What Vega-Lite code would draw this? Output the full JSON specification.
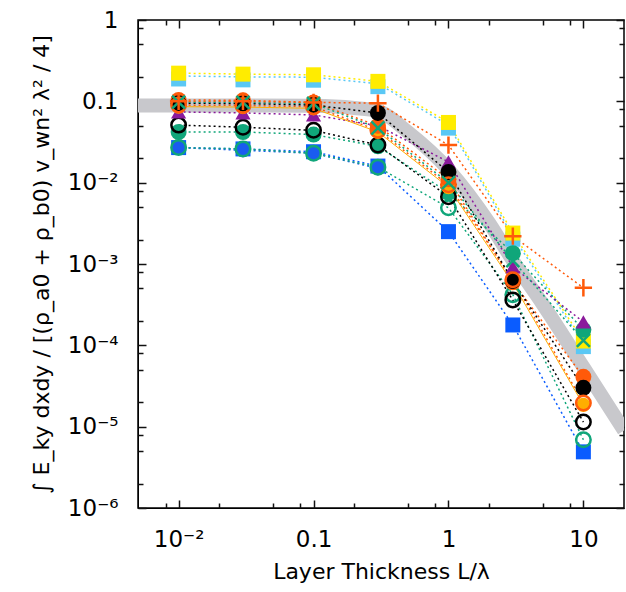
{
  "$schema": "https://vega.github.io/schema/vega-lite/v6.json",
  "width": 486,
  "height": 488,
  "autosize": {"type": "none"},
  "padding": {"left": 138, "top": 20, "right": 2, "bottom": 84},
  "background": "white",
  "config": {
    "view": {"stroke": "black", "strokeWidth": 1.5},
    "axis": {
      "labelFont": "DejaVu Sans",
      "labelFontSize": 23,
      "labelColor": "black",
      "titleFont": "DejaVu Sans",
      "titleFontSize": 22,
      "titleFontWeight": "normal",
      "titleColor": "black",
      "domainColor": "black",
      "grid": false
    }
  },
  "datasets": {
    "pts": [
      {"s": "lb", "x": 0.01, "y": 0.205}, {"s": "lb", "x": 0.03, "y": 0.2}, {"s": "lb", "x": 0.1, "y": 0.198}, {"s": "lb", "x": 0.3, "y": 0.165}, {"s": "lb", "x": 1, "y": 0.051}, {"s": "lb", "x": 3, "y": 0.0022}, {"s": "lb", "x": 10, "y": 0.000105},
      {"s": "yl", "x": 0.01, "y": 0.222}, {"s": "yl", "x": 0.03, "y": 0.216}, {"s": "yl", "x": 0.1, "y": 0.212}, {"s": "yl", "x": 0.3, "y": 0.176}, {"s": "yl", "x": 1, "y": 0.055}, {"s": "yl", "x": 3, "y": 0.0024}, {"s": "yl", "x": 10, "y": 0.000113},
      {"s": "bs", "x": 0.01, "y": 0.027}, {"s": "bs", "x": 0.03, "y": 0.026}, {"s": "bs", "x": 0.1, "y": 0.024}, {"s": "bs", "x": 0.3, "y": 0.016}, {"s": "bs", "x": 1, "y": 0.0025}, {"s": "bs", "x": 3, "y": 0.000178}, {"s": "bs", "x": 10, "y": 0.0000049},
      {"s": "bc", "x": 0.01, "y": 0.027}, {"s": "bc", "x": 0.03, "y": 0.025}, {"s": "bc", "x": 0.1, "y": 0.023}, {"s": "bc", "x": 0.3, "y": 0.015},
      {"s": "to", "x": 0.01, "y": 0.027}, {"s": "to", "x": 0.03, "y": 0.026}, {"s": "to", "x": 0.1, "y": 0.023}, {"s": "to", "x": 0.3, "y": 0.0155}, {"s": "to", "x": 1, "y": 0.0049}, {"s": "to", "x": 3, "y": 0.00042}, {"s": "to", "x": 10, "y": 0.0000069},
      {"s": "tf", "x": 0.01, "y": 0.042}, {"s": "tf", "x": 0.03, "y": 0.042}, {"s": "tf", "x": 0.1, "y": 0.039}, {"s": "tf", "x": 0.3, "y": 0.028}, {"s": "tf", "x": 1, "y": 0.0075}, {"s": "tf", "x": 3, "y": 0.00136}, {"s": "tf", "x": 10, "y": 0.000155},
      {"s": "ko", "x": 0.01, "y": 0.051}, {"s": "ko", "x": 0.03, "y": 0.048}, {"s": "ko", "x": 0.1, "y": 0.044}, {"s": "ko", "x": 0.3, "y": 0.029}, {"s": "ko", "x": 1, "y": 0.0067}, {"s": "ko", "x": 3, "y": 0.00036}, {"s": "ko", "x": 10, "y": 0.0000114},
      {"s": "pt", "x": 0.01, "y": 0.074}, {"s": "pt", "x": 0.03, "y": 0.072}, {"s": "pt", "x": 0.1, "y": 0.068}, {"s": "pt", "x": 0.3, "y": 0.05}, {"s": "pt", "x": 1, "y": 0.018}, {"s": "pt", "x": 3, "y": 0.00092}, {"s": "pt", "x": 10, "y": 0.000194},
      {"s": "lo", "x": 0.01, "y": 0.086}, {"s": "lo", "x": 0.03, "y": 0.085}, {"s": "lo", "x": 0.1, "y": 0.082}, {"s": "lo", "x": 0.3, "y": 0.042}, {"s": "lo", "x": 1, "y": 0.0088}, {"s": "lo", "x": 3, "y": 0.00058}, {"s": "lo", "x": 10, "y": 0.0000185},
      {"s": "oo", "x": 0.01, "y": 0.09}, {"s": "oo", "x": 0.03, "y": 0.089}, {"s": "oo", "x": 0.1, "y": 0.086}, {"s": "oo", "x": 0.3, "y": 0.044}, {"s": "oo", "x": 1, "y": 0.0094}, {"s": "oo", "x": 3, "y": 0.00064}, {"s": "oo", "x": 10, "y": 0.0000196},
      {"s": "of", "x": 0.01, "y": 0.104}, {"s": "of", "x": 0.03, "y": 0.103}, {"s": "of", "x": 0.1, "y": 0.097}, {"s": "of", "x": 0.3, "y": 0.05}, {"s": "of", "x": 1, "y": 0.011}, {"s": "of", "x": 3, "y": 0.0006}, {"s": "of", "x": 10, "y": 0.000041},
      {"s": "kf", "x": 0.01, "y": 0.095}, {"s": "kf", "x": 0.03, "y": 0.094}, {"s": "kf", "x": 0.1, "y": 0.09}, {"s": "kf", "x": 0.3, "y": 0.072}, {"s": "kf", "x": 1, "y": 0.0135}, {"s": "kf", "x": 3, "y": 0.00062}, {"s": "kf", "x": 10, "y": 0.00003},
      {"s": "tx", "x": 0.01, "y": 0.098}, {"s": "tx", "x": 0.03, "y": 0.097}, {"s": "tx", "x": 0.1, "y": 0.094}, {"s": "tx", "x": 0.3, "y": 0.047}, {"s": "tx", "x": 1, "y": 0.01}, {"s": "tx", "x": 3, "y": 0.0011}, {"s": "tx", "x": 10, "y": 0.000115},
      {"s": "op", "x": 0.01, "y": 0.1}, {"s": "op", "x": 0.03, "y": 0.1}, {"s": "op", "x": 0.1, "y": 0.097}, {"s": "op", "x": 0.3, "y": 0.095}, {"s": "op", "x": 1, "y": 0.029}, {"s": "op", "x": 3, "y": 0.0022}, {"s": "op", "x": 10, "y": 0.00051}
    ],
    "curve": [
      {"x": 0.005, "y": 0.089}, {"x": 0.01, "y": 0.089}, {"x": 0.03, "y": 0.089}, {"x": 0.1, "y": 0.088}, {"x": 0.2, "y": 0.083}, {"x": 0.3, "y": 0.076}, {"x": 0.5, "y": 0.042}, {"x": 1, "y": 0.0145}, {"x": 2, "y": 0.0032}, {"x": 3, "y": 0.0011}, {"x": 5, "y": 0.00032}, {"x": 10, "y": 0.000054}, {"x": 20, "y": 0.000009}
    ]
  },
  "layer": [
    {
      "data": {"name": "curve"},
      "mark": {"type": "line", "color": "#c8c8cc", "strokeWidth": 14, "interpolate": "monotone", "clip": true, "strokeCap": "butt"},
      "encoding": {
        "x": {"field": "x", "type": "quantitative", "scale": {"type": "log", "domain": [0.005, 20], "nice": false}, "axis": null},
        "y": {"field": "y", "type": "quantitative", "scale": {"type": "log", "domain": [0.000001, 1], "nice": false}, "axis": null}
      }
    },
    {
      "data": {"name": "pts"},
      "encoding": {
        "x": {
          "field": "x", "type": "quantitative",
          "scale": {"type": "log", "domain": [0.005, 20], "nice": false},
          "axis": {
            "orient": "bottom",
            "title": "Layer Thickness L/λ",
            "titlePadding": 10,
            "values": [0.01, 0.1, 1, 10],
            "labelExpr": "datum.value < 0.05 ? '10⁻²' : datum.value < 0.5 ? '0.1' : datum.value < 5 ? '1' : '10'",
            "ticks": false,
            "labelPadding": 20,
            "labelFlush": false,
            "labelOverlap": false
          }
        },
        "y": {
          "field": "y", "type": "quantitative",
          "scale": {"type": "log", "domain": [0.000001, 1], "nice": false},
          "axis": {
            "orient": "left",
            "title": "∫ E_ky dxdy / [(ρ_a0 + ρ_b0) v_wn² λ² / 4]",
            "titlePadding": 14,
            "values": [0.000001, 0.00001, 0.0001, 0.001, 0.01, 0.1, 1],
            "labelExpr": "round(log(datum.value)/LN10) == 0 ? '1' : round(log(datum.value)/LN10) == -1 ? '0.1' : '10⁻' + ['', '', '²', '³', '⁴', '⁵', '⁶'][-round(log(datum.value)/LN10)]",
            "ticks": false,
            "labelPadding": 20,
            "labelFlush": false,
            "labelOverlap": false
          }
        },
        "color": {
          "field": "s", "type": "nominal", "legend": null,
          "scale": {
            "domain": ["lb", "yl", "bs", "bc", "to", "tf", "ko", "pt", "lo", "oo", "of", "kf", "tx", "op"],
            "range": ["#5ac8f5", "#ffec00", "#0a5cff", "#1a5cf0", "#10a67a", "#10a67a", "#000000", "#8b1a9c", "#ffae00", "#ff5a0a", "#ff5a0a", "#000000", "#10a67a", "#ff5a0a"]
          }
        }
      },
      "layer": [
        {"transform": [{"filter": {"field": "s", "oneOf": ["lb", "yl", "bs", "bc", "to", "tf", "ko", "pt", "oo", "of", "kf", "tx", "op"]}}], "mark": {"type": "line", "strokeWidth": 1.5, "strokeDash": [2, 3]}, "encoding": {"detail": {"field": "s"}}},
        {"transform": [{"filter": {"field": "s", "equal": "lo"}}], "mark": {"type": "line", "strokeWidth": 1}},
        {"transform": [{"filter": {"field": "s", "equal": "lb"}}], "mark": {"type": "point", "shape": "square", "filled": true, "size": 225, "opacity": 1, "yOffset": 3}},
        {"transform": [{"filter": {"field": "s", "equal": "yl"}}], "mark": {"type": "point", "shape": "square", "filled": true, "size": 225, "opacity": 1}},
        {"transform": [{"filter": {"field": "s", "equal": "bs"}}], "mark": {"type": "point", "shape": "square", "filled": true, "size": 225, "opacity": 1}},
        {"transform": [{"filter": {"field": "s", "equal": "bc"}}], "mark": {"type": "point", "shape": "circle", "filled": true, "size": 200, "opacity": 1}},
        {"transform": [{"filter": {"field": "s", "equal": "to"}}], "mark": {"type": "point", "shape": "circle", "filled": false, "size": 210, "strokeWidth": 2.5, "opacity": 1}},
        {"transform": [{"filter": {"field": "s", "equal": "tf"}}], "mark": {"type": "point", "shape": "circle", "filled": true, "size": 256, "opacity": 1}},
        {"transform": [{"filter": {"field": "s", "equal": "ko"}}], "mark": {"type": "point", "shape": "circle", "filled": false, "size": 210, "strokeWidth": 2.5, "opacity": 1}},
        {"transform": [{"filter": {"field": "s", "equal": "pt"}}], "mark": {"type": "point", "shape": "triangle-up", "filled": true, "size": 230, "opacity": 1}},
        {"transform": [{"filter": {"field": "s", "equal": "lo"}}], "mark": {"type": "point", "shape": "circle", "filled": true, "size": 200, "opacity": 1}},
        {"transform": [{"filter": {"field": "s", "equal": "of"}}], "mark": {"type": "point", "shape": "circle", "filled": true, "size": 256, "opacity": 1}},
        {"transform": [{"filter": {"field": "s", "equal": "kf"}}], "mark": {"type": "point", "shape": "circle", "filled": true, "size": 256, "opacity": 1}},
        {"transform": [{"filter": {"field": "s", "equal": "oo"}}], "mark": {"type": "point", "shape": "circle", "filled": false, "size": 210, "strokeWidth": 2.5, "opacity": 1}},
        {"transform": [{"filter": {"field": "s", "equal": "tx"}}], "mark": {"type": "point", "shape": "M-1,-1L1,1M-1,1L1,-1", "filled": false, "size": 170, "strokeWidth": 2.5, "opacity": 1}},
        {"transform": [{"filter": {"field": "s", "equal": "op"}}], "mark": {"type": "point", "shape": "M-1,0L1,0M0,-1L0,1", "filled": false, "size": 300, "strokeWidth": 2.5, "opacity": 1}}
      ]
    },
    {
      "data": {"name": "curve"},
      "mark": {"type": "point", "opacity": 0},
      "encoding": {
        "x": {
          "field": "x", "type": "quantitative",
          "scale": {"type": "log", "domain": [0.005, 20], "nice": false},
          "axis": {"orient": "top", "offset": -488, "title": null, "labels": false, "domain": false, "ticks": true, "tickSize": 8, "tickColor": "#111111", "tickWidth": 1.5,
            "values": [0.01, 0.1, 1, 10]}
        },
        "y": {
          "field": "y", "type": "quantitative",
          "scale": {"type": "log", "domain": [0.000001, 1], "nice": false},
          "axis": {"orient": "right", "offset": -486, "title": null, "labels": false, "domain": false, "ticks": true, "tickSize": 8, "tickColor": "#111111", "tickWidth": 1.5,
            "values": [0.000001, 0.00001, 0.0001, 0.001, 0.01, 0.1, 1]}
        }
      }
    },
    {
      "data": {"name": "curve"},
      "mark": {"type": "point", "opacity": 0},
      "encoding": {
        "x": {
          "field": "x", "type": "quantitative",
          "scale": {"type": "log", "domain": [0.005, 20], "nice": false},
          "axis": {"orient": "top", "offset": -488, "title": null, "labels": false, "domain": false, "ticks": true, "tickSize": 5, "tickColor": "#111111", "tickWidth": 1.5,
            "values": [0.008, 0.02, 0.05, 0.08, 0.2, 0.5, 0.8, 2, 5, 8]}
        },
        "y": {
          "field": "y", "type": "quantitative",
          "scale": {"type": "log", "domain": [0.000001, 1], "nice": false},
          "axis": {"orient": "right", "offset": -486, "title": null, "labels": false, "domain": false, "ticks": true, "tickSize": 5, "tickColor": "#111111", "tickWidth": 1.5,
            "values": [0.000002, 0.000005, 0.000008, 0.00002, 0.00005, 0.00008, 0.0002, 0.0005, 0.0008, 0.002, 0.005, 0.008, 0.02, 0.05, 0.08, 0.2, 0.5, 0.8]}
        }
      }
    },
    {
      "data": {"name": "curve"},
      "mark": {"type": "point", "opacity": 0},
      "encoding": {
        "x": {
          "field": "x", "type": "quantitative",
          "scale": {"type": "log", "domain": [0.005, 20], "nice": false},
          "axis": {"orient": "bottom", "offset": -488, "title": null, "labels": false, "domain": false, "ticks": true, "tickSize": 8, "tickColor": "#111111", "tickWidth": 1.5,
            "values": [0.01, 0.1, 1, 10]}
        },
        "y": {
          "field": "y", "type": "quantitative",
          "scale": {"type": "log", "domain": [0.000001, 1], "nice": false},
          "axis": {"orient": "left", "offset": -486, "title": null, "labels": false, "domain": false, "ticks": true, "tickSize": 8, "tickColor": "#111111", "tickWidth": 1.5,
            "values": [0.000001, 0.00001, 0.0001, 0.001, 0.01, 0.1, 1]}
        }
      }
    },
    {
      "data": {"name": "curve"},
      "mark": {"type": "point", "opacity": 0},
      "encoding": {
        "x": {
          "field": "x", "type": "quantitative",
          "scale": {"type": "log", "domain": [0.005, 20], "nice": false},
          "axis": {"orient": "bottom", "offset": -488, "title": null, "labels": false, "domain": false, "ticks": true, "tickSize": 5, "tickColor": "#111111", "tickWidth": 1.5,
            "values": [0.008, 0.02, 0.05, 0.08, 0.2, 0.5, 0.8, 2, 5, 8]}
        },
        "y": {
          "field": "y", "type": "quantitative",
          "scale": {"type": "log", "domain": [0.000001, 1], "nice": false},
          "axis": {"orient": "left", "offset": -486, "title": null, "labels": false, "domain": false, "ticks": true, "tickSize": 5, "tickColor": "#111111", "tickWidth": 1.5,
            "values": [0.000002, 0.000005, 0.000008, 0.00002, 0.00005, 0.00008, 0.0002, 0.0005, 0.0008, 0.002, 0.005, 0.008, 0.02, 0.05, 0.08, 0.2, 0.5, 0.8]}
        }
      }
    }
  ],
  "resolve": {"axis": {"x": "independent", "y": "independent"}}
}
